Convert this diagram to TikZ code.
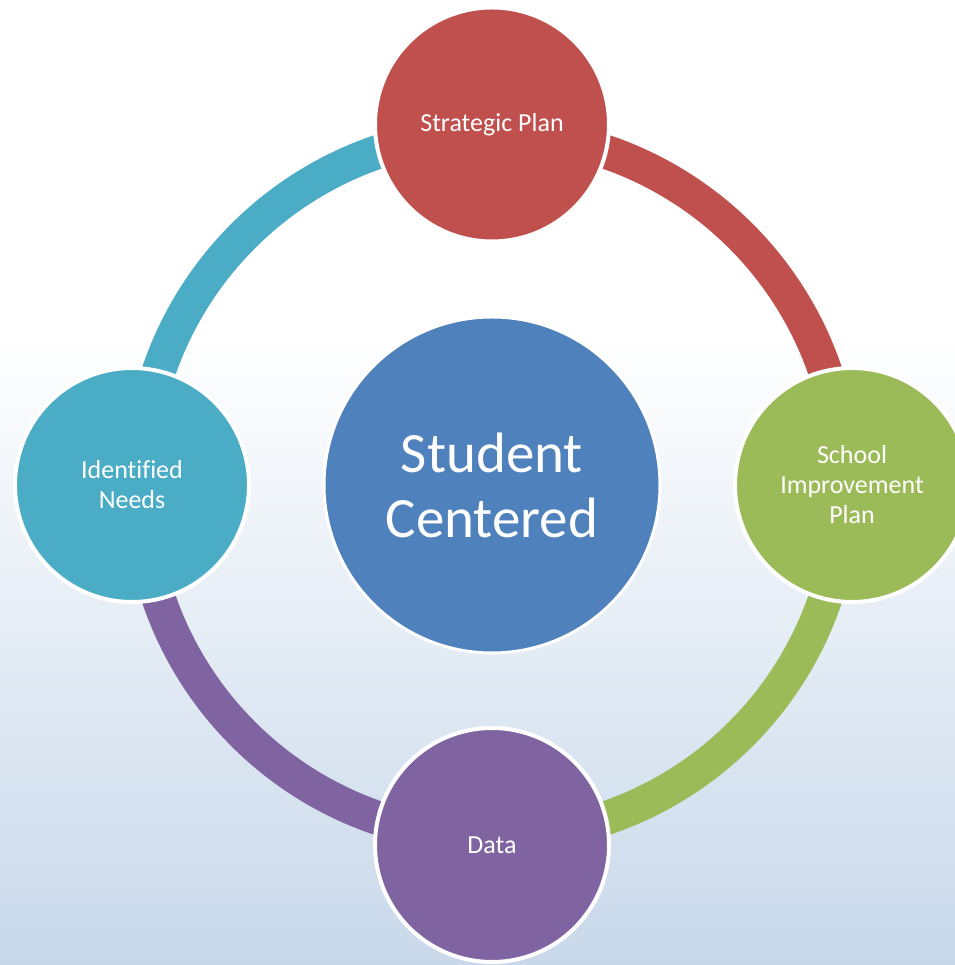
\documentclass[tikz,border=0pt]{standalone}
\usepackage{fontspec}
\setmainfont[Ligatures=CommonOff]{Carlito}
\definecolor{cred}{HTML}{C0504D}
\definecolor{cgreen}{HTML}{9BBB59}
\definecolor{cpurple}{HTML}{8064A2}
\definecolor{cteal}{HTML}{4BACC6}
\definecolor{cblue}{HTML}{4F81BD}
\definecolor{bgblue}{HTML}{C8D8EA}
\begin{document}
\begin{tikzpicture}[x=1bp,y=1bp,
  sat/.style={circle,draw=white,line width=4bp,minimum size=234bp,inner sep=0pt,
    text=white,align=center,font=\fontsize{26bp}{30bp}\selectfont},
  hub/.style={circle,draw=white,line width=3bp,minimum size=336bp,inner sep=0pt,
    text=white,align=center,font=\fontsize{57bp}{65bp}\selectfont},
  ring/.style={line width=34bp}]
\useasboundingbox (0,0) rectangle (955,965);
\clip (0,0) rectangle (955,965);
\fill[white] (0,630) rectangle (955,965);
\shade[top color=white,bottom color=bgblue] (0,0) rectangle (955,631);
\coordinate (c) at (492,480);
\coordinate (rt) at ([shift={(c)}]90:352);
\coordinate (rr) at ([shift={(c)}]0:352);
\coordinate (rb) at ([shift={(c)}]-90:352);
\coordinate (rl) at ([shift={(c)}]180:352);
\draw[ring,cred] (rt) arc[start angle=90,end angle=0,radius=352];
\draw[ring,cgreen] (rr) arc[start angle=0,end angle=-90,radius=352];
\draw[ring,cpurple] (rb) arc[start angle=-90,end angle=-180,radius=352];
\draw[ring,cteal] (rl) arc[start angle=180,end angle=90,radius=352];
\node[hub,fill=cblue] (hub) at (c) {Student\\Centered};
\node[sat,fill=cred] (sp) at (492,840.5) {Strategic Plan};
\node[sat,fill=cgreen] (sip) at (852,480) {School\\Improvement\\Plan};
\node[sat,fill=cpurple] (data) at (492,120) {Data};
\node[sat,fill=cteal] (need) at (132,480) {Identified\\Needs};
\end{tikzpicture}
\end{document}
